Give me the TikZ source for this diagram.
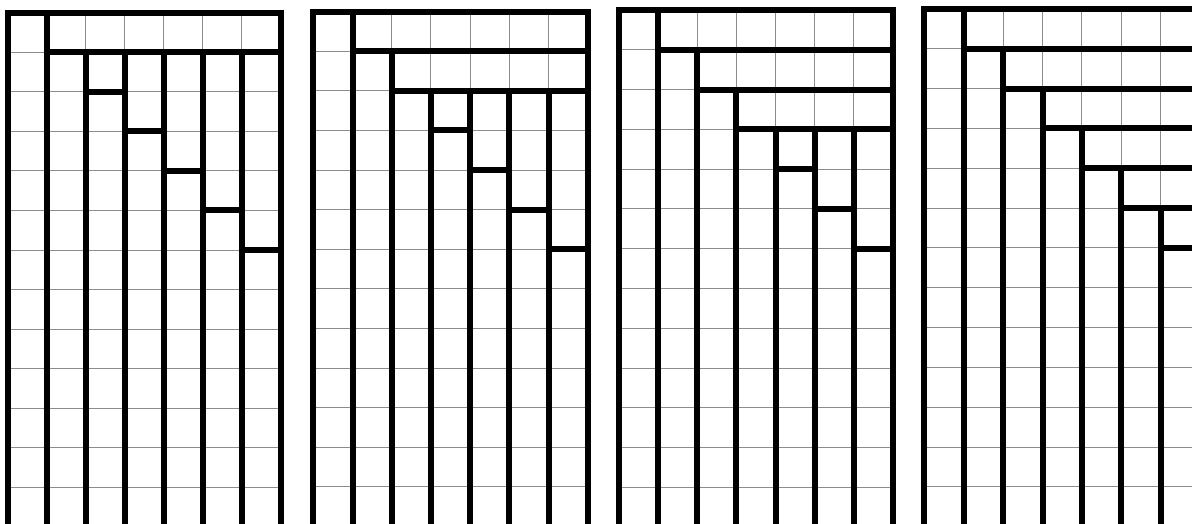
\documentclass[tikz,border=0pt]{standalone}
\tikzset{
  thingrid/.style={draw=black!45, line width=1pt},
  wall/.style={draw=black, line width=6pt, line cap=rect}
}
% #1 left x, #2 top y, #3 column width, #4 row height, #5 number of full strips
\newcommand\tabgrid[5]{%
  \foreach \i in {0,...,7}
    \draw[thingrid] ({#1+\i*#3},{#2}) -- ({#1+\i*#3},{#2+14*#4});
  \foreach \j in {0,...,14}
    \draw[thingrid] ({#1},{#2+\j*#4}) -- ({#1+7*#3},{#2+\j*#4});
  \draw[wall] ({#1},{#2+14*#4}) -- ({#1},{#2}) -- ({#1+7*#3},{#2}) -- ({#1+7*#3},{#2+14*#4});
  \foreach \c in {1,...,6}{
    \pgfmathsetmacro\s{min(\c-1,#5)}
    \draw[wall] ({#1+\c*#3},{#2+\s*#4}) -- ({#1+\c*#3},{#2+14*#4});
  }
  \foreach \j in {1,...,#5}
    \draw[wall] ({#1+\j*#3},{#2+\j*#4}) -- ({#1+7*#3},{#2+\j*#4});
  \pgfmathtruncatemacro\st{#5+1}
  \foreach \j in {\st,...,6}
    \draw[wall] ({#1+\j*#3},{#2+\j*#4}) -- ({#1+(\j+1)*#3},{#2+\j*#4});
}
\begin{document}
\begin{tikzpicture}[x=1pt,y=-1pt]
  \useasboundingbox (0,0) rectangle (1192,524);
  \clip (0,0) rectangle (1192,524);
  \tabgrid{8}{12.7}{38.96}{39.55}{1}
  \tabgrid{313.3}{11.7}{39.2}{39.6}{2}
  \tabgrid{619.3}{10}{39.06}{39.78}{3}
  \tabgrid{924.3}{9}{39.4}{39.83}{5}
\end{tikzpicture}
\end{document}
